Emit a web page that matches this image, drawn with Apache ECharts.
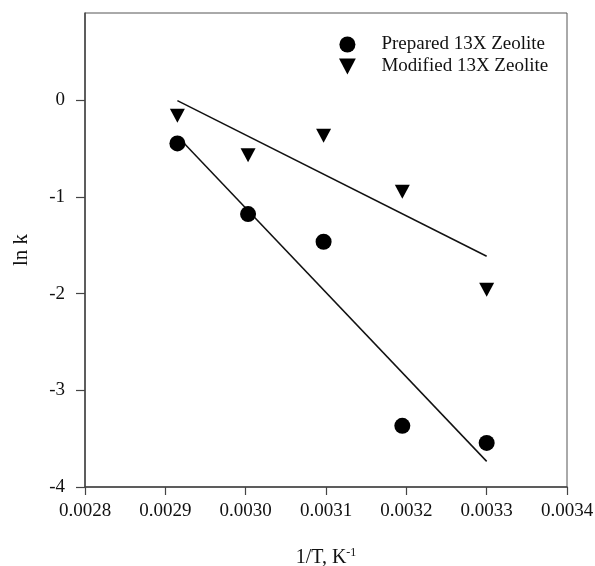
<!DOCTYPE html>
<html>
<head>
<meta charset="utf-8">
<script src="https://cdn.jsdelivr.net/npm/echarts@6/dist/echarts.min.js"></script>
<style>
html,body{margin:0;padding:0;background:#fff;}
#c{width:595px;height:566px;}
</style>
</head>
<body>
<div id="c"></div>
<script>
// Data
const invT = [0.002915, 0.003003, 0.003097, 0.003195, 0.0033];
const preparedLnK = [-0.448, -1.179, -1.465, -3.368, -3.544];
const modifiedLnK = [-0.162, -0.57, -0.37, -0.948, -1.96];
// Fitted lines (end points)
const fitX = [0.002915, 0.0033];
const preparedFit = [-0.375, -3.735];
const modifiedFit = [-0.005, -1.615];
const yTicks = [-4, -3, -2, -1, 0];
const seriesNames = ['Prepared 13X Zeolite', 'Modified 13X Zeolite'];

const triPath = 'path://M0,0L10,0L5,9.5Z';
const font = 'Liberation Serif';

const zip = (xs, ys) => xs.map((x, i) => [x, ys[i]]);

const chart = echarts.init(document.getElementById('c'), null, {renderer: 'canvas'});
chart.setOption({
  animation: false,
  backgroundColor: '#ffffff',
  grid: {left: 85, right: 28, top: 13, bottom: 79, show: true, borderColor: '#555', borderWidth: 1, containLabel: false, outerBoundsMode: 'none'},
  legend: {
    orient: 'vertical',
    left: 334,
    top: 30,
    itemWidth: 58,
    itemHeight: 16,
    itemGap: 3,
    symbolKeepAspect: true,
    textStyle: {fontFamily: font, fontSize: 19, color: '#111'},
    data: [
      {name: seriesNames[0], icon: 'circle'},
      {name: seriesNames[1], icon: triPath}
    ]
  },
  xAxis: {
    type: 'value',
    min: 0.0028,
    max: 0.0034,
    interval: 0.0001,
    name: '1/T, K{sup|-1}',
    nameLocation: 'middle',
    nameGap: 60,
    nameTextStyle: {
      fontFamily: font, fontSize: 20, color: '#111', verticalAlign: 'top',
      rich: {sup: {fontFamily: font, fontSize: 12, color: '#111', padding: [0, 0, 10, 0]}}
    },
    axisLine: {show: true, onZero: false, lineStyle: {color: '#444', width: 1.5}},
    axisTick: {show: true, inside: false, length: 8, lineStyle: {color: '#444', width: 1.2}},
    axisLabel: {fontFamily: font, fontSize: 19, color: '#111', margin: 15, formatter: v => v.toFixed(4)},
    splitLine: {show: false}
  },
  yAxis: {
    type: 'value',
    min: -4,
    max: 0.9,
    interval: 1,
    name: 'ln k',
    nameLocation: 'middle',
    nameRotate: 90,
    nameGap: 53,
    nameTextStyle: {fontFamily: font, fontSize: 21, color: '#111'},
    axisLine: {show: true, onZero: false, lineStyle: {color: '#444', width: 1.5}},
    axisTick: {show: true, inside: false, length: 9, customValues: yTicks, lineStyle: {color: '#444', width: 1.2}},
    axisLabel: {fontFamily: font, fontSize: 19, color: '#111', margin: 20, customValues: yTicks},
    splitLine: {show: false}
  },
  series: [
    {
      name: seriesNames[0], type: 'scatter', symbol: 'circle', symbolSize: 16,
      itemStyle: {color: '#000', opacity: 1}, data: zip(invT, preparedLnK), z: 3
    },
    {
      name: seriesNames[1], type: 'scatter', symbol: triPath, symbolSize: [15, 14],
      itemStyle: {color: '#000', opacity: 1}, data: zip(invT, modifiedLnK), z: 3
    },
    {
      name: 'fit1', type: 'line', showSymbol: false, symbol: 'none', silent: true,
      lineStyle: {color: '#111', width: 1.5}, data: zip(fitX, preparedFit), z: 2
    },
    {
      name: 'fit2', type: 'line', showSymbol: false, symbol: 'none', silent: true,
      lineStyle: {color: '#111', width: 1.5}, data: zip(fitX, modifiedFit), z: 2
    }
  ]
});
</script>
</body>
</html>
